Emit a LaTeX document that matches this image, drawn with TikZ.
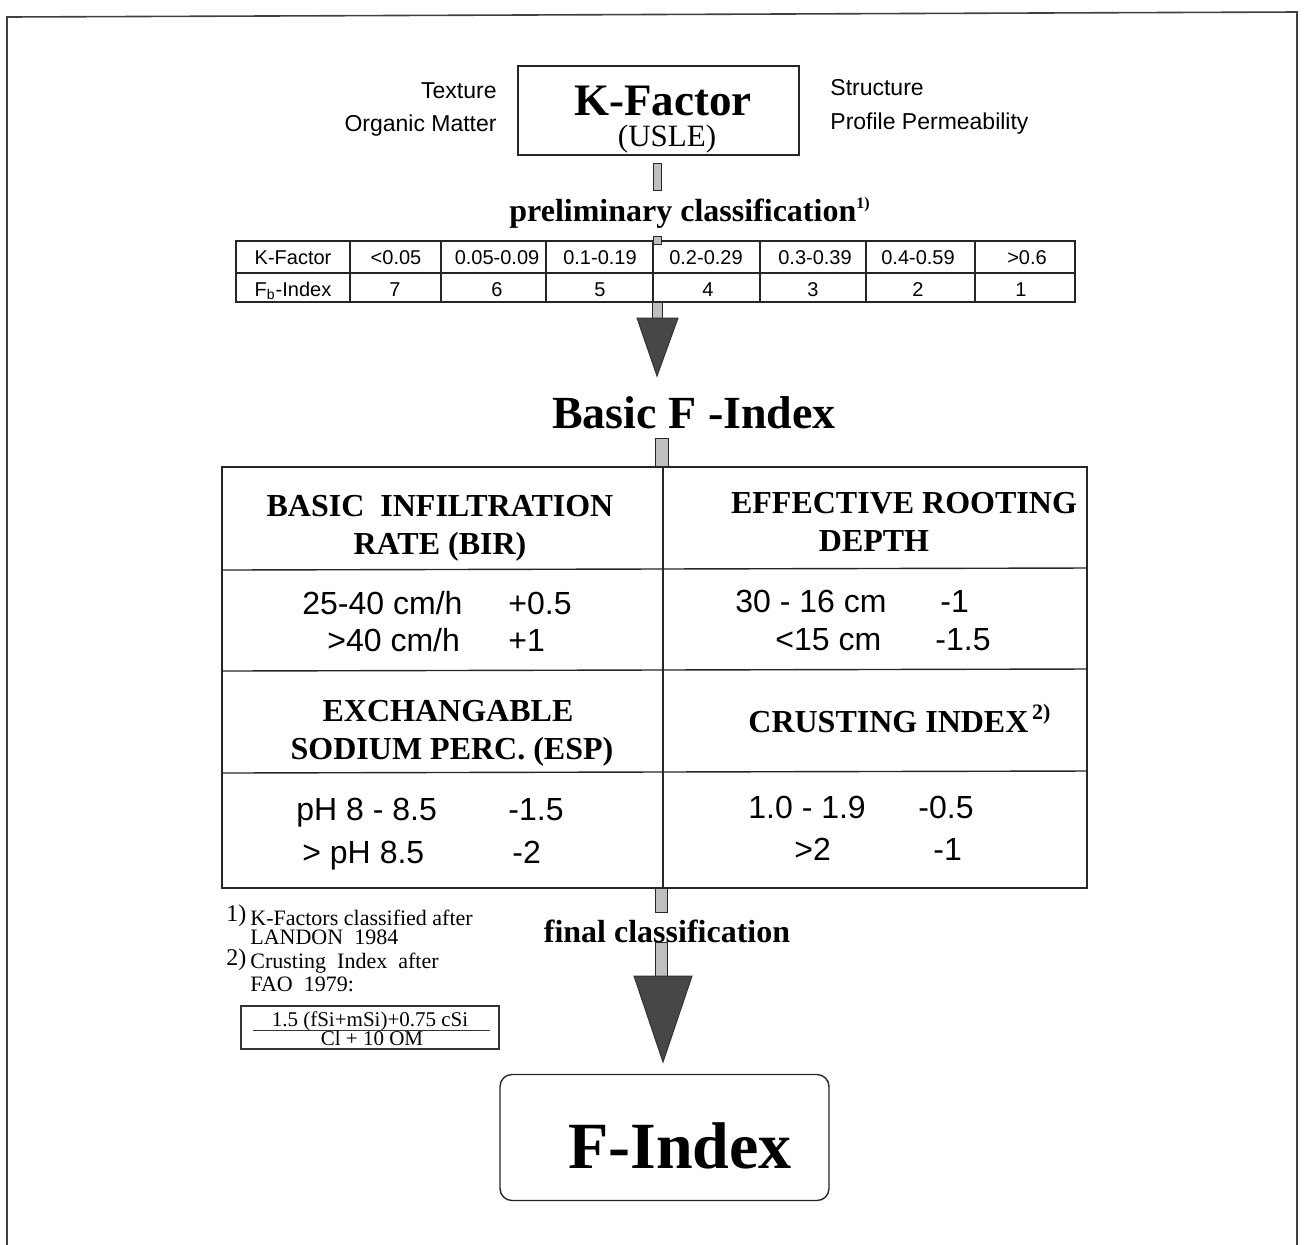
\documentclass[tikz,border=0pt]{standalone}
\usepackage{fontspec}
\setmainfont{Liberation Serif}
\newfontfamily\arialf{Liberation Sans}
\begin{document}
\begin{tikzpicture}[x=0.5pt,y=-0.5pt,
  sa/.style={font=\arialf\fontsize{11.5}{13}\selectfont, inner sep=0},
  cell/.style={font=\arialf\fontsize{10}{12}\selectfont, inner sep=0, anchor=base},
  val/.style={font=\arialf\fontsize{16}{19}\selectfont, inner sep=0, anchor=base west},
  hdr/.style={font=\bfseries\fontsize{16}{19}\selectfont, inner sep=0, anchor=base},
  ttl/.style={font=\bfseries\fontsize{23}{27}\selectfont, inner sep=0, anchor=base},
  fn/.style={font=\fontsize{11}{12}\selectfont, inner sep=0, anchor=base west},
  bar/.style={draw=black!85, fill=gray!50, line width=0.5pt},
  tri/.style={fill=black!72, draw=black!80, line width=0.5pt},
  frame/.style={draw=black!75, line width=0.8pt},
  grid/.style={draw=black!85, line width=0.7pt}]
\useasboundingbox (0,0) rectangle (1304,1244);
% outer frame (bottom edge lies below the page)
\draw[frame] (7,1250) -- (7,17) -- (1297,12) -- (1297,1250);

% K-Factor box and side labels
\node[draw=black!85, line width=0.7pt, minimum width=140.5pt, minimum height=44.5pt, inner sep=0] (kbox) at (658.5,110.5) {};
\node[ttl, font=\bfseries\fontsize{22.5}{27}\selectfont] (kf) at (663,115) {K-Factor};
\node[inner sep=0, anchor=base, font=\fontsize{15.5}{18}\selectfont] (usle) at (667,146) {(USLE)};
\node[sa, anchor=base east] (tex) at (497,98) {Texture};
\node[sa, anchor=base east] (om) at (497,131) {Organic Matter};
\node[sa, anchor=base west] (str) at (830,95) {Structure};
\node[sa, anchor=base west] (pp) at (830,129) {Profile Permeability};

% connector bar to preliminary classification
\draw[bar] (653,163) rectangle (661,190);
\node[hdr] (prelim) at (690,221) {preliminary classification\textsuperscript{\fontsize{8}{8}\selectfont 1)}};

% K-Factor table
\draw[grid] (236,241) rectangle (1075,302);
\draw[grid] (236,273) -- (1075,273);
\foreach \cx in {350,441,546,653,760,866,975} {\draw[grid] (\cx,241) -- (\cx,302);}
\node[cell] (t11) at (293,264) {K-Factor};
\node[cell] (t12) at (396,264) {<0.05};
\node[cell] (t13) at (497,264) {0.05-0.09};
\node[cell] (t14) at (600,264) {0.1-0.19};
\node[cell] (t15) at (706,264) {0.2-0.29};
\node[cell] (t16) at (815,264) {0.3-0.39};
\node[cell] (t17) at (918,264) {0.4-0.59};
\node[cell] (t18) at (1027,264) {>0.6};
\node[cell] (t21) at (293,296) {F\textsubscript{b}-Index};
\node[cell] (t22) at (395,296) {7};
\node[cell] (t23) at (497,296) {6};
\node[cell] (t24) at (600,296) {5};
\node[cell] (t25) at (708,296) {4};
\node[cell] (t26) at (813,296) {3};
\node[cell] (t27) at (918,296) {2};
\node[cell] (t28) at (1021,296) {1};

% arrow to Basic F-Index
\draw[bar] (653,236) rectangle (661,244);
\draw[bar] (652,302) rectangle (662,318);
\draw[tri] (637,318) -- (678,318) -- (657,376) -- cycle;
\node[ttl] (basic) at (694,428) {Basic F -Index};
\draw[bar] (655,438) rectangle (668,467);

% main table
\draw[grid] (222,467) rectangle (1087,888);
\draw[grid] (663,467) -- (663,888);
\draw[grid] (222,570) -- (1087,568);
\draw[grid] (222,671) -- (1087,669);
\draw[grid] (222,773) -- (1087,771);
\node[hdr] (bir1) at (440,516) {BASIC\ \ INFILTRATION};
\node[hdr] (bir2) at (440,554) {RATE (BIR)};
\node[hdr] (erd1) at (904,513) {EFFECTIVE ROOTING};
\node[hdr] (erd2) at (874,551) {DEPTH};
\node[val] (v1) at (302,614) {25-40 cm/h};
\node[val] (v1b) at (508,614) {+0.5};
\node[val] (v2) at (327,651) {>40 cm/h};
\node[val] (v2b) at (508,651) {+1};
\node[val] (v3) at (735,612) {30 - 16 cm};
\node[val] (v3b) at (940,612) {-1};
\node[val] (v4) at (775,650) {<15 cm};
\node[val] (v4b) at (935,650) {-1.5};
\node[hdr] (esp1) at (448,721) {EXCHANGABLE};
\node[hdr] (esp2) at (452,759) {SODIUM PERC. (ESP)};
\node[hdr, anchor=base west] (ci) at (748,732) {CRUSTING INDEX\textsuperscript{\fontsize{11}{11}\selectfont\,2)}};
\node[val] (v5) at (296,820) {pH 8 - 8.5};
\node[val] (v5b) at (508,820) {-1.5};
\node[val] (v6) at (302,863) {> pH 8.5};
\node[val] (v6b) at (512,863) {-2};
\node[val] (v7) at (748,818) {1.0 - 1.9};
\node[val] (v7b) at (918,818) {-0.5};
\node[val] (v8) at (794,860) {>2};
\node[val] (v8b) at (933,860) {-1};

% final classification arrow
\draw[bar] (655,888) rectangle (667,912);
\draw[bar] (655,942) rectangle (667,976);
\node[hdr] (final) at (667,942) {final classification};
\draw[tri] (634,976) -- (692,976) -- (663,1062) -- cycle;

% F-Index box
\node[draw=black!85, line width=0.7pt, rounded corners=6pt, minimum width=164.5pt, minimum height=63pt, inner sep=0] (fbox) at (664.5,1137.5) {};
\node[ttl, font=\bfseries\fontsize{33}{38}\selectfont] (fidx) at (680,1168) {F-Index};

% footnotes
\node[fn, font=\fontsize{12}{12}\selectfont] (fn1n) at (226,921) {1)};
\node[fn] (fn1a) at (250,925) {K-Factors classified after};
\node[fn] (fn1b) at (250,944) {LANDON\ \ 1984};
\node[fn, font=\fontsize{12}{12}\selectfont] (fn2n) at (226,965) {2)};
\node[fn] (fn2a) at (250,968) {Crusting\ \ Index\ \ after};
\node[fn] (fn2b) at (250,991) {FAO\ \ 1979:};
\draw[draw=black!80, line width=0.6pt] (241,1006) rectangle (499,1049);
\node[inner sep=0, anchor=base, font=\fontsize{10.5}{12}\selectfont] (num) at (370,1026) {1.5 (fSi+mSi)+0.75 cSi};
\draw[black!80, line width=0.5pt] (253,1030) -- (490,1030);
\node[inner sep=0, anchor=base, font=\fontsize{10.5}{12}\selectfont] (den) at (372,1045) {Cl + 10 OM};
\end{tikzpicture}
\end{document}
